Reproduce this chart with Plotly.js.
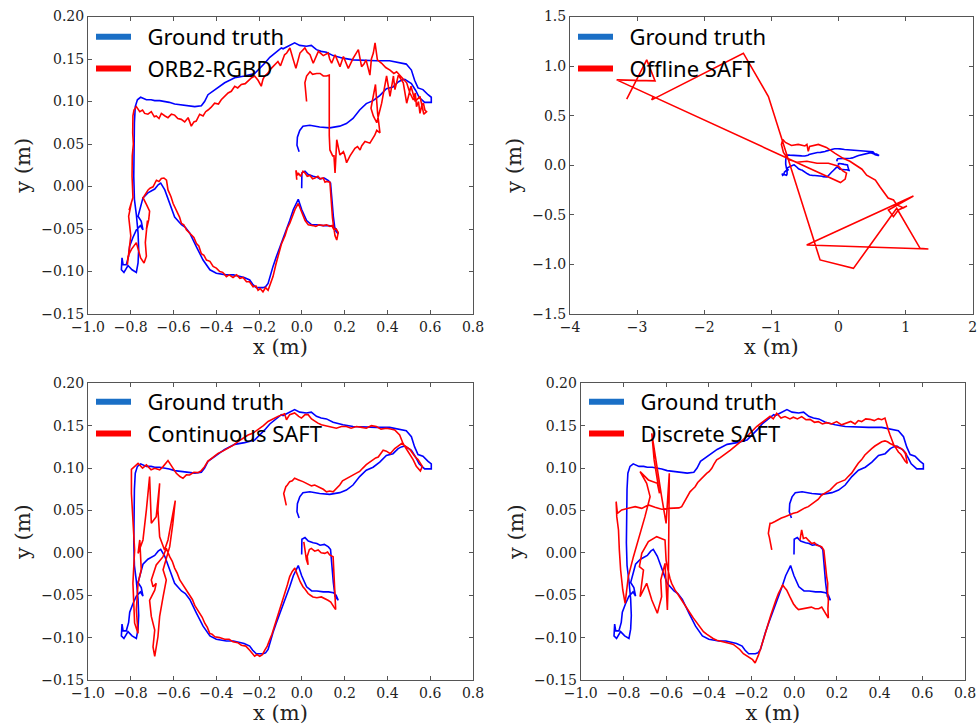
<!DOCTYPE html>
<html><head><meta charset="utf-8">
<script src="https://cdn.plot.ly/plotly-3.0.1.min.js"></script>
<style>html,body{margin:0;padding:0;background:#fff}#g{width:979px;height:726px}</style>
</head><body><div id="g"></div>
<script>
// ---- DATA (x, y in metres) ----
const legendLabels = ["Ground truth", "ORB2-RGBD", "Offline SAFT", "Continuous SAFT", "Discrete SAFT"];

const groundTruthXY = [
[-0.001,-0.002],[0.0,0.016],[0.0145,0.018],[0.030,0.014],[0.053,0.012],[0.070,0.011],[0.085,0.009],[0.105,0.010],[0.124,0.007],[0.134,0.004],[0.139,-0.011],[0.143,-0.025],[0.147,-0.035],[0.155,-0.051],[0.163,-0.054],[0.170,-0.056],[0.160,-0.050],[0.147,-0.047],[0.125,-0.046],[0.100,-0.046],[0.070,-0.045],[0.046,-0.045],[0.022,-0.040],[-0.001,-0.027],[-0.017,-0.015],[-0.030,-0.022],[-0.040,-0.027],[-0.057,-0.040],[-0.080,-0.055],[-0.104,-0.071],[-0.120,-0.083],[-0.135,-0.094],[-0.158,-0.114],[-0.170,-0.118],[-0.182,-0.119],[-0.200,-0.119],[-0.213,-0.119],[-0.230,-0.115],[-0.244,-0.110],[-0.270,-0.107],[-0.29,-0.106],[-0.32,-0.104],[-0.353,-0.104],[-0.38,-0.103],[-0.40,-0.102],[-0.43,-0.098],[-0.462,-0.0865],[-0.493,-0.071],[-0.524,-0.055],[-0.545,-0.048],[-0.563,-0.045],[-0.595,-0.036],[-0.618,-0.020],[-0.641,-0.004],[-0.660,0.004],[-0.672,0.002],[-0.688,-0.003],[-0.720,-0.0075],[-0.743,-0.0134],[-0.754,-0.023],[-0.766,-0.035],[-0.751,-0.041],[-0.743,-0.051],[-0.755,-0.046],[-0.774,-0.051],[-0.790,-0.060],[-0.805,-0.070],[-0.810,-0.082],[-0.821,-0.092],[-0.836,-0.092],[-0.841,-0.084],[-0.844,-0.098],[-0.832,-0.101],[-0.813,-0.093],[-0.794,-0.098],[-0.774,-0.101],[-0.766,-0.090],[-0.763,-0.074],[-0.766,-0.0545],[-0.774,-0.033],[-0.783,-0.015],[-0.786,0.012],[-0.786,0.043],[-0.783,0.075],[-0.779,0.094],[-0.769,0.102],[-0.754,0.105],[-0.740,0.103],[-0.727,0.102],[-0.705,0.102],[-0.688,0.101],[-0.665,0.101],[-0.642,0.100],[-0.620,0.099],[-0.595,0.097],[-0.570,0.096],[-0.548,0.095],[-0.501,0.094],[-0.470,0.095],[-0.455,0.100],[-0.439,0.108],[-0.408,0.114],[-0.361,0.122],[-0.314,0.128],[-0.268,0.130],[-0.221,0.133],[-0.200,0.138],[-0.174,0.145],[-0.150,0.152],[-0.127,0.157],[-0.096,0.163],[-0.088,0.162],[-0.057,0.166],[-0.034,0.169],[-0.010,0.166],[0.021,0.165],[0.044,0.166],[0.068,0.161],[0.090,0.159],[0.115,0.158],[0.146,0.154],[0.192,0.151],[0.239,0.149],[0.301,0.148],[0.348,0.148],[0.410,0.148],[0.457,0.146],[0.488,0.144],[0.512,0.137],[0.527,0.125],[0.543,0.116],[0.566,0.114],[0.590,0.108],[0.605,0.105],[0.605,0.099],[0.590,0.099],[0.574,0.099],[0.548,0.105],[0.532,0.113],[0.512,0.121],[0.481,0.126],[0.465,0.125],[0.450,0.123],[0.426,0.117],[0.395,0.115],[0.364,0.107],[0.333,0.101],[0.301,0.0975],[0.270,0.090],[0.239,0.080],[0.208,0.074],[0.177,0.071],[0.13,0.069],[0.083,0.070],[0.037,0.072],[0.005,0.071],[-0.010,0.066],[-0.021,0.058],[-0.023,0.0486],[-0.013,0.041]
];

const orbXY = [
[-0.024,0.008],[-0.028,0.019],[-0.020,0.013],[-0.017,0.016],[-0.006,0.012],[0.005,0.018],[0.014,0.016],[0.025,0.012],[0.038,0.013],[0.050,0.009],[0.061,0.010],[0.075,0.012],[0.085,0.009],[0.100,0.010],[0.108,0.005],[0.116,0.006],[0.131,0.005],[0.134,-0.0075],[0.137,-0.018],[0.139,-0.027],[0.143,-0.037],[0.147,-0.045],[0.152,-0.052],[0.155,-0.058],[0.163,-0.063],[0.166,-0.056],[0.170,-0.054],[0.160,-0.050],[0.150,-0.051],[0.140,-0.046],[0.131,-0.047],[0.115,-0.045],[0.100,-0.046],[0.080,-0.045],[0.065,-0.047],[0.053,-0.046],[0.030,-0.045],[0.015,-0.040],[0.007,-0.035],[-0.005,-0.027],[-0.017,-0.020],[-0.032,-0.027],[-0.045,-0.036],[-0.056,-0.043],[-0.068,-0.049],[-0.079,-0.058],[-0.096,-0.068],[-0.105,-0.076],[-0.111,-0.079],[-0.122,-0.092],[-0.135,-0.106],[-0.147,-0.115],[-0.158,-0.122],[-0.170,-0.119],[-0.182,-0.124],[-0.195,-0.120],[-0.205,-0.122],[-0.215,-0.117],[-0.228,-0.118],[-0.245,-0.112],[-0.259,-0.112],[-0.275,-0.107],[-0.29,-0.108],[-0.305,-0.104],[-0.322,-0.107],[-0.340,-0.104],[-0.353,-0.106],[-0.370,-0.101],[-0.384,-0.100],[-0.400,-0.096],[-0.415,-0.094],[-0.430,-0.088],[-0.446,-0.0865],[-0.458,-0.081],[-0.470,-0.079],[-0.482,-0.070],[-0.493,-0.067],[-0.505,-0.060],[-0.517,-0.057],[-0.530,-0.053],[-0.540,-0.051],[-0.552,-0.045],[-0.563,-0.0435],[-0.572,-0.036],[-0.579,-0.032],[-0.590,-0.027],[-0.602,-0.020],[-0.612,-0.012],[-0.626,-0.004],[-0.633,0.0074],[-0.645,0.010],[-0.657,0.0094],[-0.668,0.006],[-0.680,0.0074],[-0.696,-0.0004],[-0.710,-0.002],[-0.719,-0.004],[-0.739,-0.012],[-0.743,-0.013],[-0.727,-0.021],[-0.712,-0.029],[-0.716,-0.039],[-0.727,-0.051],[-0.722,-0.040],[-0.732,-0.066],[-0.727,-0.082],[-0.738,-0.090],[-0.754,-0.084],[-0.766,-0.074],[-0.774,-0.066],[-0.797,-0.074],[-0.813,-0.082],[-0.816,-0.092],[-0.810,-0.080],[-0.800,-0.058],[-0.810,-0.035],[-0.797,-0.019],[-0.808,-0.028],[-0.790,-0.013],[-0.794,0.012],[-0.793,0.036],[-0.788,0.050],[-0.791,0.063],[-0.790,0.083],[-0.785,0.090],[-0.774,0.094],[-0.758,0.088],[-0.745,0.090],[-0.735,0.086],[-0.720,0.085],[-0.704,0.088],[-0.690,0.082],[-0.681,0.083],[-0.668,0.080],[-0.657,0.086],[-0.640,0.083],[-0.626,0.081],[-0.610,0.085],[-0.595,0.084],[-0.580,0.080],[-0.564,0.079],[-0.548,0.076],[-0.532,0.081],[-0.517,0.071],[-0.505,0.076],[-0.494,0.077],[-0.478,0.085],[-0.462,0.083],[-0.450,0.088],[-0.439,0.090],[-0.425,0.093],[-0.408,0.098],[-0.390,0.097],[-0.377,0.102],[-0.360,0.106],[-0.345,0.110],[-0.330,0.112],[-0.314,0.118],[-0.300,0.116],[-0.283,0.120],[-0.265,0.121],[-0.252,0.124],[-0.235,0.128],[-0.221,0.130],[-0.205,0.125],[-0.190,0.118],[-0.182,0.126],[-0.174,0.130],[-0.160,0.133],[-0.143,0.139],[-0.128,0.143],[-0.112,0.147],[-0.100,0.142],[-0.081,0.155],[-0.071,0.157],[-0.056,0.163],[-0.040,0.149],[-0.028,0.139],[-0.009,0.157],[0.014,0.163],[0.025,0.158],[0.038,0.155],[0.053,0.145],[0.065,0.152],[0.077,0.159],[0.100,0.154],[0.123,0.157],[0.130,0.150],[0.139,0.145],[0.155,0.155],[0.165,0.148],[0.178,0.141],[0.194,0.153],[0.205,0.146],[0.217,0.139],[0.240,0.151],[0.253,0.157],[0.264,0.161],[0.279,0.141],[0.290,0.144],[0.300,0.149],[0.318,0.131],[0.325,0.150],[0.334,0.157],[0.342,0.169],[0.353,0.149],[0.373,0.145],[0.392,0.140],[0.412,0.137],[0.430,0.133],[0.443,0.135],[0.466,0.128],[0.490,0.122],[0.505,0.110],[0.521,0.102],[0.530,0.110],[0.536,0.094],[0.545,0.100],[0.552,0.086],[0.560,0.095],[0.568,0.098],[0.575,0.090],[0.583,0.088],[0.570,0.085],[0.552,0.106],[0.530,0.100],[0.510,0.118],[0.490,0.098],[0.474,0.122],[0.451,0.131],[0.435,0.114],[0.428,0.130],[0.412,0.106],[0.396,0.130],[0.373,0.098],[0.350,0.075],[0.334,0.083],[0.323,0.092],[0.344,0.120],[0.354,0.086],[0.365,0.063],[0.350,0.066],[0.340,0.060],[0.318,0.051],[0.295,0.053],[0.280,0.048],[0.272,0.043],[0.260,0.047],[0.248,0.045],[0.225,0.036],[0.209,0.028],[0.200,0.037],[0.194,0.041],[0.178,0.037],[0.170,0.045],[0.163,0.055],[0.158,0.030],[0.155,0.016],[0.150,0.036],[0.144,0.036],[0.131,0.043],[0.128,0.060],[0.128,0.131],[0.115,0.130],[0.100,0.130],[0.085,0.133],[0.069,0.133],[0.050,0.132],[0.038,0.135],[0.022,0.130],[0.014,0.122],[0.016,0.115],[0.019,0.110],[0.022,0.100]
];

const offlineXY = [
[-3.155,0.666],[-2.857,1.063],[-2.733,0.851],[-3.304,0.861],[0.03,-0.175],[0.10,-0.14],[0.12,-0.08],[0.07,-0.06],[0.0,-0.01],[-0.15,0.02],[-0.32,0.02],[-0.47,0.04],[-0.62,0.03],[-0.75,0.06],[-0.82,0.13],[-0.85,0.21],[-0.83,0.26],[-0.79,0.23],[-0.70,0.20],[-0.60,0.21],[-0.50,0.195],[-0.47,0.21],[-0.45,0.14],[-0.43,0.19],[-0.30,0.21],[-0.18,0.18],[-0.05,0.12],[0.07,0.07],[0.17,0.04],[0.27,0.0],[0.35,-0.04],[0.42,-0.10],[0.50,-0.13],[0.55,-0.15],[0.62,-0.22],[0.69,-0.28],[0.74,-0.33],[0.82,-0.35],[0.87,-0.40],[0.97,-0.43],[1.02,-0.41],[0.893,-0.451],[0.819,-0.518],[0.744,-0.451],[1.117,-0.310],[-0.473,-0.804],[1.340,-0.844],[1.216,-0.838],[0.868,-0.434],[0.223,-1.040],[-0.274,-0.955],[-1.044,0.693],[-1.417,1.130],[-2.783,0.659],[-2.758,0.693]
];

const continuousXY = [
[0.009,0.013],[0.013,0.0073],[0.017,-0.002],[0.021,-0.008],[0.029,-0.014],[0.025,-0.004],[0.035,0.004],[0.044,0.0053],[0.060,0.002],[0.076,0.0034],[0.090,0.000],[0.107,-0.0006],[0.120,0.001],[0.130,-0.0025],[0.146,-0.0045],[0.148,-0.015],[0.150,-0.024],[0.151,-0.036],[0.153,-0.048],[0.155,-0.058],[0.158,-0.067],[0.150,-0.064],[0.146,-0.062],[0.135,-0.058],[0.122,-0.056],[0.105,-0.054],[0.091,-0.052],[0.070,-0.053],[0.052,-0.052],[0.040,-0.050],[0.029,-0.048],[0.015,-0.043],[0.005,-0.040],[-0.008,-0.034],[-0.018,-0.028],[-0.033,-0.018],[-0.045,-0.022],[-0.057,-0.028],[-0.068,-0.038],[-0.080,-0.048],[-0.092,-0.057],[-0.104,-0.067],[-0.115,-0.077],[-0.127,-0.087],[-0.140,-0.096],[-0.151,-0.103],[-0.162,-0.110],[-0.174,-0.115],[-0.185,-0.120],[-0.197,-0.122],[-0.210,-0.120],[-0.221,-0.122],[-0.232,-0.118],[-0.244,-0.115],[-0.262,-0.110],[-0.283,-0.109],[-0.300,-0.106],[-0.322,-0.105],[-0.340,-0.102],[-0.361,-0.102],[-0.385,-0.100],[-0.407,-0.099],[-0.420,-0.096],[-0.431,-0.095],[-0.442,-0.088],[-0.454,-0.083],[-0.466,-0.076],[-0.478,-0.071],[-0.490,-0.066],[-0.501,-0.062],[-0.512,-0.055],[-0.524,-0.050],[-0.536,-0.046],[-0.548,-0.040],[-0.560,-0.036],[-0.571,-0.032],[-0.583,-0.024],[-0.595,-0.018],[-0.606,-0.010],[-0.618,-0.0045],[-0.634,0.0053],
[-0.649,-0.0045],[-0.681,-0.0143],[-0.704,-0.032],[-0.696,-0.040],[-0.681,-0.036],[-0.688,-0.044],[-0.712,-0.056],[-0.704,-0.075],[-0.688,-0.091],[-0.696,-0.111],[-0.688,-0.122],[-0.673,-0.099],[-0.665,-0.075],[-0.649,-0.052],[-0.634,-0.032],[-0.649,-0.020],[-0.618,0.0073],[-0.603,0.035],[-0.592,0.0616],[-0.626,0.0152],[-0.642,0.0034],[-0.665,0.019],[-0.673,0.0506],[-0.665,0.082],[-0.681,0.0427],[-0.704,0.035],[-0.712,0.090],[-0.727,0.0506],[-0.743,0.0152],[-0.766,-0.0006],[-0.758,0.0152],[-0.751,-0.020],[-0.766,-0.036],[-0.774,-0.067],[-0.766,-0.095],[-0.782,-0.083],[-0.790,-0.036],[-0.782,0.0034],[-0.790,0.035],[-0.797,0.070],[-0.797,0.0985],
[-0.766,0.1056],[-0.745,0.100],[-0.727,0.1037],[-0.705,0.098],[-0.688,0.0997],[-0.665,0.098],[-0.649,0.1017],[-0.626,0.1088],[-0.610,0.1025],[-0.598,0.097],[-0.587,0.0938],[-0.570,0.090],[-0.556,0.0879],[-0.540,0.092],[-0.525,0.0919],[-0.505,0.095],[-0.486,0.0946],[-0.470,0.097],[-0.455,0.1017],[-0.440,0.108],[-0.423,0.1115],[-0.392,0.1174],[-0.370,0.120],[-0.345,0.1233],[-0.320,0.127],[-0.299,0.1312],[-0.275,0.135],[-0.252,0.139],[-0.230,0.141],[-0.205,0.145],[-0.180,0.150],[-0.158,0.155],[-0.135,0.158],[-0.112,0.161],[-0.081,0.164],[-0.072,0.157],[-0.057,0.163],[-0.034,0.165],[-0.015,0.161],[-0.002,0.159],[0.015,0.163],[0.029,0.163],[0.045,0.158],[0.060,0.155],[0.075,0.153],[0.091,0.151],[0.110,0.150],[0.122,0.149],[0.140,0.148],[0.161,0.147],[0.185,0.149],[0.208,0.149],[0.230,0.147],[0.255,0.149],[0.280,0.148],[0.301,0.147],[0.325,0.150],[0.348,0.149],[0.370,0.146],[0.395,0.147],[0.415,0.146],[0.434,0.145],[0.457,0.139],[0.473,0.129],[0.485,0.124],[0.497,0.119],[0.510,0.114],[0.520,0.110],[0.535,0.102],[0.545,0.099],[0.554,0.0966],[0.563,0.102],[0.555,0.105],[0.543,0.110],[0.530,0.113],[0.520,0.117],[0.505,0.122],[0.489,0.125],[0.466,0.129],[0.450,0.126],[0.434,0.123],[0.413,0.117],[0.395,0.120],[0.380,0.121],[0.357,0.113],[0.345,0.112],[0.333,0.110],[0.315,0.106],[0.301,0.104],[0.285,0.100],[0.270,0.096],[0.255,0.094],[0.239,0.092],[0.222,0.089],[0.208,0.088],[0.190,0.085],[0.177,0.080],[0.160,0.076],[0.146,0.072],[0.130,0.073],[0.115,0.072],[0.100,0.075],[0.091,0.076],[0.075,0.078],[0.060,0.080],[0.045,0.079],[0.037,0.080],[0.020,0.083],[0.005,0.084],[-0.015,0.086],[-0.034,0.088],[-0.045,0.085],[-0.057,0.084],[-0.068,0.080],[-0.075,0.078],[-0.085,0.070],[-0.080,0.062],[-0.073,0.056]
];

const discreteXY = [
[0.027,0.015],[0.035,0.027],[0.043,0.017],[0.055,0.018],[0.066,0.015],[0.082,0.011],[0.095,0.012],[0.105,0.009],[0.120,0.008],[0.129,0.007],[0.139,0.003],[0.144,-0.012],[0.148,-0.020],[0.152,-0.028],[0.157,-0.036],[0.156,-0.045],[0.160,-0.056],[0.158,-0.066],[0.160,-0.077],[0.152,-0.074],[0.144,-0.071],[0.129,-0.064],[0.115,-0.066],[0.098,-0.066],[0.080,-0.064],[0.059,-0.065],[0.040,-0.066],[0.020,-0.067],[0.008,-0.064],[-0.004,-0.060],[-0.020,-0.052],[-0.035,-0.044],[-0.045,-0.041],[-0.054,-0.038],[-0.064,-0.043],[-0.074,-0.048],[-0.086,-0.056],[-0.098,-0.064],[-0.110,-0.074],[-0.121,-0.083],[-0.132,-0.093],[-0.144,-0.103],[-0.156,-0.112],[-0.168,-0.121],[-0.183,-0.130],[-0.195,-0.126],[-0.207,-0.124],[-0.222,-0.121],[-0.238,-0.119],[-0.255,-0.114],[-0.269,-0.111],[-0.285,-0.108],[-0.300,-0.107],[-0.316,-0.106],[-0.332,-0.105],[-0.348,-0.104],[-0.363,-0.103],[-0.380,-0.101],[-0.394,-0.099],[-0.410,-0.096],[-0.425,-0.093],[-0.440,-0.088],[-0.457,-0.083],[-0.472,-0.077],[-0.488,-0.071],[-0.500,-0.066],[-0.511,-0.062],[-0.523,-0.057],[-0.535,-0.052],[-0.547,-0.048],[-0.558,-0.044],[-0.574,-0.036],[-0.582,-0.030],[-0.589,-0.024],[-0.595,-0.016],[-0.600,-0.0085],
[-0.605,0.0152],[-0.644,0.0191],[-0.683,0.0132],[-0.714,-0.0006],[-0.725,-0.0163],[-0.706,-0.0202],[-0.714,-0.036],[-0.722,-0.0517],[-0.691,-0.036],[-0.667,-0.0556],[-0.641,-0.0713],[-0.621,-0.0517],[-0.625,-0.032],[-0.605,-0.0124],[-0.594,-0.0674],[-0.589,-0.0202],[-0.585,0.0938],[-0.600,0.0348],[-0.621,0.0663],[-0.667,0.141],[-0.656,0.1096],[-0.631,0.0702],[-0.641,0.082],[-0.683,0.086],[-0.722,0.0958],[-0.691,0.082],[-0.675,0.0663],[-0.699,0.0427],[-0.722,0.023],[-0.753,-0.0045],[-0.777,-0.028],[-0.792,-0.0595],[-0.803,-0.0438],[-0.813,-0.0202],[-0.819,0.0034],[-0.823,0.027],[-0.831,0.0427],[-0.834,0.0604],[-0.828,0.0466],[-0.808,0.0506],[-0.777,0.0525],[-0.745,0.0545],[-0.714,0.0525],[-0.683,0.0565],[-0.652,0.0537],[-0.621,0.0514],[-0.589,0.0525],
[-0.558,0.0525],[-0.540,0.053],[-0.527,0.0545],[-0.515,0.060],[-0.503,0.066],[-0.495,0.069],[-0.488,0.072],[-0.476,0.075],[-0.464,0.078],[-0.452,0.083],[-0.441,0.086],[-0.425,0.090],[-0.410,0.0938],[-0.398,0.096],[-0.386,0.0997],[-0.375,0.105],[-0.363,0.1096],[-0.348,0.112],[-0.332,0.1155],[-0.316,0.118],[-0.300,0.121],[-0.285,0.124],[-0.269,0.127],[-0.253,0.130],[-0.238,0.133],[-0.222,0.137],[-0.207,0.141],[-0.190,0.146],[-0.176,0.149],[-0.160,0.152],[-0.144,0.155],[-0.128,0.158],[-0.113,0.161],[-0.098,0.158],[-0.082,0.1646],[-0.062,0.159],[-0.043,0.1607],[-0.020,0.158],[-0.004,0.160],[0.015,0.158],[0.035,0.1607],[0.055,0.157],[0.074,0.1575],[0.095,0.154],[0.113,0.1548],[0.132,0.152],[0.152,0.1536],[0.175,0.152],[0.199,0.1548],[0.222,0.151],[0.246,0.1528],[0.265,0.155],[0.285,0.152],[0.300,0.156],[0.316,0.1548],[0.335,0.158],[0.355,0.1575],[0.375,0.156],[0.394,0.1583],[0.410,0.157],[0.425,0.159],[0.433,0.151],[0.441,0.145],[0.449,0.139],[0.458,0.133],[0.467,0.127],[0.478,0.123],[0.488,0.119],[0.500,0.116],[0.511,0.1115],[0.520,0.108],[0.530,0.1056],[0.525,0.112],[0.519,0.119],[0.527,0.1155],[0.515,0.120],[0.503,0.123],[0.490,0.124],[0.480,0.125],[0.465,0.127],[0.449,0.129],[0.437,0.131],[0.425,0.132],[0.410,0.131],[0.394,0.129],[0.378,0.126],[0.363,0.123],[0.347,0.119],[0.331,0.1155],[0.316,0.110],[0.300,0.1056],[0.285,0.100],[0.269,0.094],[0.253,0.090],[0.238,0.086],[0.218,0.084],[0.199,0.082],[0.183,0.078],[0.168,0.074],[0.148,0.071],[0.128,0.068],[0.112,0.063],[0.097,0.060],[0.080,0.057],[0.066,0.0545],[0.050,0.053],[0.035,0.0506],[0.015,0.048],[-0.004,0.0466],[-0.025,0.044],[-0.043,0.0427],[-0.060,0.041],[-0.074,0.0388],[-0.090,0.037],[-0.106,0.035],[-0.113,0.0348],[-0.118,0.028],[-0.121,0.023],[-0.116,0.018],[-0.113,0.013],[-0.108,0.008],[-0.105,0.0034]
];

// ---- BUILD ----
const W = 979, H = 726;
const xs = a => a.map(p => p[0]);
const ys = a => a.map(p => p[1]);
const BLUE = '#0000ff', RED = '#ff0000', LEG_BLUE = '#1a6fc6';

const panels = [
  {xa:'x',  ya:'y',  leg:'legend',  est:orbXY,        label:legendLabels[1]},
  {xa:'x2', ya:'y2', leg:'legend2', est:offlineXY,    label:legendLabels[2]},
  {xa:'x3', ya:'y3', leg:'legend3', est:continuousXY, label:legendLabels[3]},
  {xa:'x4', ya:'y4', leg:'legend4', est:discreteXY,   label:legendLabels[4]}
];

const traces = [];
panels.forEach(p => {
  traces.push({type:'scatter', mode:'lines', x:xs(groundTruthXY), y:ys(groundTruthXY), xaxis:p.xa, yaxis:p.ya,
    line:{color:BLUE, width:1.6}, showlegend:false, hoverinfo:'skip'});
  traces.push({type:'scatter', mode:'lines', x:xs(p.est), y:ys(p.est), xaxis:p.xa, yaxis:p.ya,
    line:{color:RED, width:1.6}, showlegend:false, hoverinfo:'skip'});
  traces.push({type:'scatter', mode:'lines', x:[null], y:[null], xaxis:p.xa, yaxis:p.ya,
    line:{color:LEG_BLUE, width:6}, name:'\u00a0\u00a0' + legendLabels[0], legend:p.leg, legendgroup:p.leg+'a', showlegend:true});
  traces.push({type:'scatter', mode:'lines', x:[null], y:[null], xaxis:p.xa, yaxis:p.ya,
    line:{color:RED, width:6}, name:'\u00a0\u00a0' + p.label, legend:p.leg, legendgroup:p.leg+'b', showlegend:true});
});

const tickFont = {family:'DejaVu Serif', size:14, color:'#222'};
const titleFont = {family:'DejaVu Serif', size:21, color:'#222'};
function ax(extra){
  return Object.assign({showgrid:false, zeroline:false, showline:true, linecolor:'#555', linewidth:1,
    mirror:'ticks', ticks:'inside', ticklen:4, tickcolor:'#555', tickfont:tickFont, fixedrange:true}, extra);
}
const domL = [88/W, 473/W], domR = [570/W, 972.7/W], domR2 = [580.7/W, 965/W];
const domT = [1-314/H, 1-16.5/H], domB = [1-680/H, 1-383.3/H];

const xSmall = {range:[-1,0.8], dtick:0.2, tick0:0, tickformat:'.1f'};
const ySmall = {range:[-0.15,0.2], dtick:0.05, tick0:0, tickformat:'.2f'};
const xt = {title:{text:'x (m)', font:titleFont, standoff:4}};
const yt = {title:{text:'y (m)', font:titleFont, standoff:4}};

function legendAt(xpx, ypx){
  return {x:xpx/W, y:1-ypx/H, xref:'paper', yref:'paper', xanchor:'left', yanchor:'top',
    bgcolor:'rgba(0,0,0,0)', borderwidth:0, font:{family:'Noto Sans', size:22, color:'#000'},
    traceorder:'grouped', tracegroupgap:0, itemwidth:35};
}

const layout = {
  width:W, height:H, margin:{l:0,r:0,t:0,b:0}, paper_bgcolor:'#fff', plot_bgcolor:'#fff', showlegend:true,
  xaxis: ax(Object.assign({domain:domL, anchor:'y'}, xSmall, xt)),
  yaxis: ax(Object.assign({domain:domT, anchor:'x'}, ySmall, yt)),
  xaxis2: ax(Object.assign({domain:domR, anchor:'y2', range:[-4,2], dtick:1, tick0:0, tickformat:'d'}, xt)),
  yaxis2: ax(Object.assign({domain:domT, anchor:'x2', range:[-1.5,1.5], dtick:0.5, tick0:0, tickformat:'.1f'}, yt)),
  xaxis3: ax(Object.assign({domain:domL, anchor:'y3'}, xSmall, xt)),
  yaxis3: ax(Object.assign({domain:domB, anchor:'x3'}, ySmall, yt)),
  xaxis4: ax(Object.assign({domain:domR2, anchor:'y4'}, xSmall, xt)),
  yaxis4: ax(Object.assign({domain:domB, anchor:'x4'}, ySmall, yt)),
  legend: legendAt(91, 16),
  legend2: legendAt(573, 16),
  legend3: legendAt(91, 381),
  legend4: legendAt(584, 381)
};

Plotly.newPlot('g', traces, layout, {displayModeBar:false, staticPlot:true});
</script>
</body></html>
